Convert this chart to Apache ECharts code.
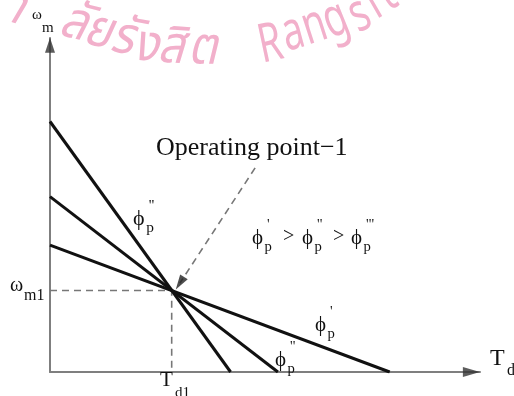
<!DOCTYPE html>
<html>
<head>
<meta charset="utf-8">
<script src="https://cdn.jsdelivr.net/npm/echarts@6/dist/echarts.min.js"></script>
<style>
  html, body { margin: 0; padding: 0; background: #ffffff; }
  #chart { width: 514px; height: 396px; }
</style>
</head>
<body>
<div id="chart"></div>
<script>
// Speed–torque lines for three field fluxes (end points on the axes)
const lineSteep = [[0, 7.5], [4.2, 0]];
const lineMid = [[0, 5.25], [5.3, 0]];
const lineFlat = [[0, 3.8], [7.9, 0]];
// Common crossing: the operating point (T_d1, ω_m1)
const operatingPoint = [2.83, 2.44];
// Dashed pointer from the caption down to the operating point
const pointerStart = [4.77, 6.11];
const pointerHead = [3.02, 2.66];
// Arrow heads at the ends of both axes
const axisHeads = [[9.8, 0], [0, 9.78]];

const SERIF = '"Liberation Serif", "Times New Roman", serif';
const INK = '#111111';

const chart = echarts.init(document.getElementById('chart'), null, { renderer: 'canvas' });

// Text placed by its left edge and baseline
function txt(text, left, baseline, size, extra) {
  return Object.assign({
    type: 'text',
    z: 10,
    style: {
      text: text,
      x: left,
      y: baseline - 0.33 * size,
      font: size + 'px ' + SERIF,
      fill: INK,
      align: 'left',
      verticalAlign: 'middle'
    }
  }, extra || {});
}

// ϕ with subscript p and prime marks above
function phi(left, baseline, size, primes) {
  return [
    txt('\u03D5', left, baseline, size),
    txt(primes, left + 0.72 * size, baseline - 0.7 * size, 0.7 * size),
    txt('p', left + 0.6 * size, baseline + 0.32 * size, 0.7 * size)
  ];
}

// Campus watermark glyphs along a shallow arc: [text, centre x, baseline y, tilt°, font, x-scale]
const wmColor = '#f2b0cb';
const wmThai = 'italic 52px "Noto Sans Thai", "Noto Sans", sans-serif';
const wmLatin = '54px "Noto Sans", "Open Sans", sans-serif';
const wmGlyphs = [
  ['\u0E32', 10, 22, 18, wmThai, 0.9],
  ['\u0E25\u0E31', 70, 38, 14, wmThai, 0.9],
  ['\u0E22', 95, 46, 12, wmThai, 0.9],
  ['\u0E23\u0E31', 120, 53, 10, wmThai, 0.9],
  ['\u0E07', 144, 61, 7, wmThai, 0.9],
  ['\u0E2A\u0E34', 170, 63, 4, wmThai, 0.9],
  ['\u0E15', 202, 64, 1, wmThai, 0.9],
  ['R', 273, 57, -12, wmLatin, 0.7],
  ['a', 296, 45, -15, wmLatin, 0.7],
  ['n', 318, 38, -18, wmLatin, 0.7],
  ['g', 340, 31, -22, wmLatin, 0.7],
  ['s', 365, 26, -26, wmLatin, 0.7],
  ['i', 379, 14, -30, wmLatin, 0.7],
  ['t', 393, 5, -33, wmLatin, 0.7]
];
const watermark = wmGlyphs.map(function (g) {
  return {
    type: 'text',
    x: g[1],
    y: g[2],
    rotation: -g[3] * Math.PI / 180,
    scaleX: g[5],
    z: 0,
    style: {
      text: g[0],
      x: 0,
      y: 15,
      font: g[4],
      fill: wmColor,
      align: 'center',
      verticalAlign: 'bottom'
    }
  };
});

const labels = [].concat(
  // axis titles
  [txt('\u03C9', 32, 20, 15), txt('m', 42, 33, 15)],
  [txt('T', 490, 367, 24), txt('d', 507, 376, 16)],
  // operating point coordinates
  [txt('\u03C9', 10, 292, 20), txt('m1', 24, 301, 16)],
  [txt('T', 160, 387, 21), txt('d1', 175, 398, 15)],
  // caption and flux ordering
  [txt('Operating point\u22121', 156, 157, 26)],
  phi(252, 245, 21, "'"),
  [txt('>', 283, 243, 20)],
  phi(302, 245, 21, "''"),
  [txt('>', 333, 243, 20)],
  phi(351, 245, 21, "'''"),
  // line labels
  phi(133, 226, 22, "''"),
  phi(315, 332, 21, "'"),
  phi(275, 367, 21, "''")
);

const blackLine = function (name, data) {
  return {
    name: name,
    type: 'line',
    data: data,
    symbol: 'none',
    silent: true,
    z: 4,
    lineStyle: { color: INK, width: 3 }
  };
};

chart.setOption({
  animation: false,
  backgroundColor: '#ffffff',
  grid: { left: 50, right: 34, top: 38, bottom: 24 },
  xAxis: {
    type: 'value', min: 0, max: 10,
    axisLine: { show: true, lineStyle: { color: '#7f7f7f', width: 2 } },
    axisTick: { show: false }, axisLabel: { show: false }, splitLine: { show: false }
  },
  yAxis: {
    type: 'value', min: 0, max: 10,
    axisLine: { show: true, lineStyle: { color: '#7f7f7f', width: 2 } },
    axisTick: { show: false }, axisLabel: { show: false }, splitLine: { show: false }
  },
  series: [
    {
      name: 'guides',
      type: 'line',
      data: [[0, operatingPoint[1]], operatingPoint, [operatingPoint[0], 0]],
      symbol: 'none',
      silent: true,
      z: 3,
      lineStyle: { color: '#777777', width: 1.6, type: [7, 5] }
    },
    blackLine('steep', lineSteep),
    blackLine('mid', lineMid),
    blackLine('flat', lineFlat),
    {
      name: 'pointer',
      type: 'line',
      data: [pointerStart, pointerHead],
      symbol: 'none',
      silent: true,
      z: 3,
      lineStyle: { color: '#777777', width: 1.6, type: [7, 5] }
    },
    {
      name: 'pointerHead',
      type: 'scatter',
      data: [pointerHead],
      symbol: 'triangle',
      symbolSize: [9, 15],
      symbolRotate: 147,
      silent: true,
      z: 5,
      itemStyle: { color: '#222222' }
    },
    {
      name: 'axisHeads',
      type: 'scatter',
      data: [
        { value: axisHeads[0], symbolRotate: -90, symbolSize: [10, 17] },
        { value: axisHeads[1], symbolRotate: 0, symbolSize: [10, 15] }
      ],
      symbol: 'triangle',
      silent: true,
      z: 5,
      itemStyle: { color: '#333333' }
    }
  ],
  graphic: watermark.concat(labels)
});
</script>
</body>
</html>
